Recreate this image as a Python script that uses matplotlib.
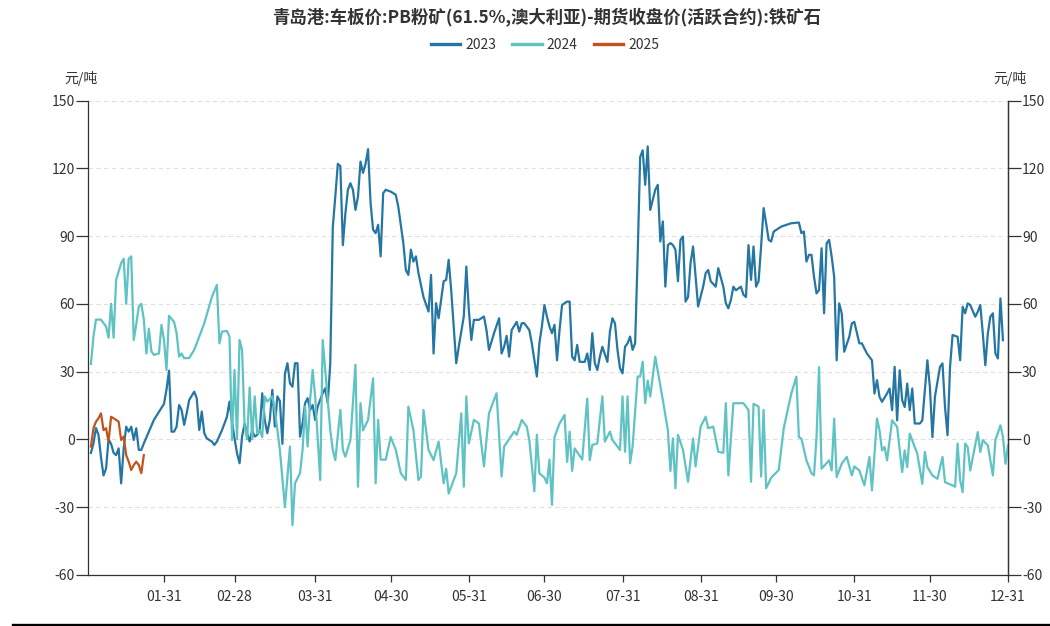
import matplotlib
matplotlib.use("Agg")
import matplotlib.pyplot as plt
from matplotlib.lines import Line2D
import pandas as pd

plt.rcParams['font.family'] = ['Noto Sans CJK SC', 'DejaVu Sans']
plt.rcParams['axes.unicode_minus'] = False

title = "青岛港:车板价:PB粉矿(61.5%,澳大利亚)-期货收盘价(活跃合约):铁矿石"
unit = "元/吨"
series_names = ["2023", "2024", "2025"]
colors = ["#2576a2", "#5fc2c3", "#c2531d"]

tick_dates = ["01-31", "02-28", "03-31", "04-30", "05-31", "06-30",
              "07-31", "08-31", "09-30", "10-31", "11-30", "12-31"]
y_ticks = [-60, -30, 0, 30, 60, 90, 120, 150]

# day of year (leap-year calendar, 01-01 = 1)
doy_2023 = [2, 3, 4, 5, 6, 7, 8, 9, 10, 11, 12, 13, 14, 15, 16, 17, 18, 19, 20, 21, 22, 23, 27,
            31, 32, 33, 34, 35, 36, 37, 38, 39, 40, 41, 43, 44, 45, 46, 47, 48, 50, 51, 52, 54,
            56, 57, 58, 59, 60, 61, 62, 63, 64, 65, 66, 67, 68, 69, 70, 71, 72, 73, 74, 75, 76,
            77, 78, 79, 80, 81, 82, 83, 84, 85, 86, 87, 88, 89, 90, 91, 92, 94, 95, 96, 97, 98,
            99, 100, 101, 102, 103, 104, 105, 106, 107, 108, 109, 110, 111, 112, 113, 114, 115,
            116, 117, 118, 119, 121, 123, 124, 126, 127, 128, 129, 130, 131, 132, 134, 136, 137,
            138, 139, 140, 141, 142, 143, 144, 145, 147, 148, 150, 151, 152, 153, 154, 156, 158,
            159, 160, 162, 164, 165, 166, 167, 168, 169, 171, 172, 173, 174, 176, 177, 178, 179,
            180, 181, 182, 183, 184, 185, 186, 187, 188, 189, 191, 192, 193, 194, 195, 196, 198,
            199, 200, 201, 202, 203, 204, 205, 207, 208, 209, 210, 211, 212, 213, 214, 215, 216,
            217, 218, 219, 220, 221, 222, 223, 224, 225, 226, 227, 228, 229, 230, 231, 232, 233,
            234, 235, 236, 237, 238, 239, 240, 241, 242, 243, 245, 246, 247, 248, 250, 251, 253,
            254, 255, 256, 257, 258, 260, 261, 262, 263, 264, 265, 266, 267, 268, 269, 270, 271,
            272, 273, 276, 280, 283, 284, 285, 286, 287, 288, 289, 290, 291, 292, 293, 294, 295,
            296, 297, 298, 299, 300, 301, 303, 304, 305, 307, 308, 310, 312, 313, 314, 315, 316,
            318, 319, 320, 321, 322, 323, 324, 325, 326, 327, 328, 329, 331, 332, 334, 335, 336,
            337, 339, 340, 341, 342, 343, 344, 346, 347, 348, 349, 350, 351, 353, 354, 355, 356,
            357, 358, 359, 360, 361, 362, 363, 364]
val_2023 = [-6, -2, 5, 2, -8, -16, -13, 0, -2, -6, -7, -4, -19.5, -4, 5.6, 3.4, 5.6, -0.3, 4.9,
            -4.7, -4.7, -1.8, 8.6, 15.7, 22, 30.4, 3.4, 3.4, 5.6, 15.2, 13, 6.4, 11.5, 17.4, 21.1,
            18.2, 4.1, 12.3, 2.7, 0.4, -1, -2.5, -1, 4, 10, 16.7, 7.8, 0.4, -6.2, -10.6, 1.2, 7,
            2.7, -1, 4, 1.2, 2, 4, 20.4, 8.6, 2.7, 8.6, 21.9, 5.6, 19, 17, -2, 29, 33.7, 24.8,
            23.3, 33.7, 33.7, 1.2, 7, 16, 18.2, 13, 15.2, 8.6, 14.5, 20.4, 22.6, 16, 33.7, 94,
            107.5, 122, 121, 86, 100, 110.5, 113.4, 110.5, 101.6, 107.5, 123, 118, 122, 128.5,
            104.6, 92.8, 91.3, 95, 81, 109, 110.5, 109.7, 108.3, 103, 86.9, 75, 72.8, 84, 78.7,
            81, 73.6, 63, 56.6, 72.8, 38, 60.3, 53.6, 61.7, 70, 70.6, 79.5, 66, 33.7, 41, 54.4,
            76.5, 57.3, 44, 52.9, 52.9, 54.4, 48.4, 39.6, 47, 53.6, 38, 41, 45.8, 36.6, 48.4, 52,
            47.7, 51.4, 51.4, 48.4, 42.5, 35, 27.8, 42.5, 50, 59.5, 54.4, 50, 47, 50.7, 35, 48.4,
            59.5, 61, 61, 36.6, 35, 41.8, 34.3, 34.3, 38, 30.7, 47, 33.7, 30.7, 36.6, 41, 34.3,
            47.7, 53.6, 51.4, 39.6, 31.5, 29.2, 41, 42.5, 45.5, 39.6, 42.5, 81, 125, 128, 112.7,
            129.7, 101.6, 106, 110.5, 112.7, 87.6, 96.5, 67.6, 86, 86.9, 86, 84, 70, 88.3, 89.8,
            61, 63, 78, 85.4, 72, 58.8, 67.6, 73.6, 75, 70, 67.6, 75.8, 67.6, 60.3, 58, 61.7,
            67.6, 66, 67.6, 64, 63, 86, 70.6, 85.4, 67.6, 70, 85.4, 102.4, 95.7, 88.3, 87.6, 92,
            94.2, 95.7, 96, 91.3, 92, 78.7, 81.7, 81.7, 72, 64.6, 66.1, 84.6, 55.8, 86.8, 88.3,
            81, 72, 35, 60.2, 55.8, 38.8, 45.4, 51.3, 52, 42.5, 42.5, 38, 35, 20.3, 26.2, 18.8,
            16.6, 20.3, 22.5, 12.9, 32.1, 8.4, 30.6, 17.3, 14.3, 24.7, 12.9, 22.5, 7, 7, 8.4, 35,
            23.2, 1, 18.8, 32.1, 33.6, 14.3, 1.8, 32.1, 46.2, 45.4, 35, 58.7, 55.8, 60.2, 59.5,
            54.3, 56.5, 59.5, 46.9, 32.8, 46.9, 54.3, 55.8, 38, 35.8, 62.4, 43.9]

doy_2024 = [2, 3, 4, 6, 8, 9, 10, 11, 12, 14, 15, 16, 17, 18, 19, 20, 21, 22, 23, 24, 25, 26, 27,
            29, 30, 31, 32, 33, 35, 36, 37, 38, 39, 41, 43, 47, 50, 52, 53, 54, 56, 57, 58, 59,
            60, 61, 62, 63, 64, 65, 66, 67, 68, 69, 70, 71, 72, 74, 75, 77, 79, 80, 81, 82, 83,
            85, 86, 87, 88, 89, 90, 91, 93, 94, 95, 97, 98, 99, 101, 102, 103, 105, 107, 108, 109,
            110, 112, 114, 115, 116, 117, 119, 121, 123, 125, 127, 128, 130, 132, 133, 134, 136,
            138, 140, 142, 143, 144, 147, 149, 150, 151, 152, 154, 156, 158, 160, 163, 165, 166,
            170, 171, 173, 175, 176, 178, 179, 180, 182, 183, 184, 185, 186, 188, 190, 191, 192,
            193, 194, 197, 199, 200, 201, 203, 205, 206, 208, 209, 212, 213, 214, 215, 216, 217,
            219, 220, 221, 222, 223, 224, 226, 229, 231, 232, 233, 234, 235, 237, 239, 241, 242,
            244, 246, 247, 249, 251, 253, 254, 255, 257, 261, 263, 264, 265, 267, 268, 269, 270,
            272, 275, 277, 280, 282, 283, 284, 286, 288, 289, 290, 291, 292, 295, 296, 297, 298,
            300, 302, 304, 305, 307, 309, 311, 312, 314, 315, 316, 317, 318, 320, 322, 324, 325,
            326, 327, 329, 330, 332, 333, 334, 336, 338, 340, 341, 344, 345, 346, 347, 348, 349,
            350, 351, 354, 355, 356, 358, 360, 361, 363, 364, 365, 366]
val_2024 = [33.4, 45.5, 53, 53, 50, 45, 60, 45, 70.6, 78, 80, 60, 80, 81, 44, 51, 58.8, 60, 53,
            38, 49, 39, 37.4, 38, 50.7, 44, 30.7, 54.7, 52, 47, 36.6, 38, 35.9, 36, 39.6, 51.4,
            63, 68.4, 42.5, 47.7, 48, 45.5, -0.3, 30.7, 0, 44, 39.6, 5.6, 0, 23, 0, 19, 2.6, 4,
            1, 19, 16.7, 19, 13, -4.7, -30, -16.5, -3.2, -38, -19.5, -15, -4.7, 14.5, -3.2,
            17.4, 30.7, 19, -18, 44, 30.7, 4.1, -4.7, -9.2, 13, -4.7, -7.7, -0.3, 33, -21, 16,
            4, 8.6, 27, -19.5, 8.6, -9, -9, 1, -4.7, -15, -18, 14.5, 4, -18, -16.5, 13, -4.7,
            -9.2, -1, -19.5, -13, -24, -15, 11.5, -21, 19, -1.8, 8.6, 7, -12, 11.5, 20.4, -16.5,
            -3.2, 3.4, 2, 8.6, 5.6, -0.3, -23, 2, -15, -17, -19.5, -9, -29, 1, 7, 10.8, -10,
            3.4, -14, -4, -9, 18, -9.2, -2.5, -1.8, 19, -1, 3.4, -0.3, -4.7, 19, -5.5, 19,
            -10.6, -3.2, 27.8, 27.8, 34.4, 16, 26, 19, 36.6, 17.4, 4, -14, 0.4, -21.7, 2, -4.7,
            -18.8, 0.4, -12, 5.6, 10, 4.9, 5.6, -5.5, -6, 16, -16, 16, 16, 13, -18.8, 15.7,
            14.5, -16.5, 13, -21.7, -17, -13.6, 5, 20.3, 27.7, 1, 0.3, -9.3, -15, -16, 1, 32,
            -13, -9.3, -13.8, 9.2, -16.7, -10.8, -7.8, -16, -12, -13.8, -20.4, -7.8, -22.6, 9.2,
            4, -4.9, -3.4, -9.3, 8.4, 5.5, -14.5, -4.9, -12.3, 2.5, -3.4, -6.4, -19.7, -5.6,
            -12.3, -16, -17.5, -7.8, -19, -20.4, -21, -1.9, -18, -23.4, -1.9, -3.4, -13.8, 3.2,
            -5.6, -0.4, -2.7, -16, -0.4, 6.2, 1, -10.8, -2.7]

doy_2025 = [2, 3, 4, 5, 6, 7, 8, 9, 10, 11, 12, 13, 14, 15, 16, 17, 18, 19, 20, 21, 22, 23]
val_2025 = [-3.2, 4.9, 7.8, 9.3, 11.5, 4.1, 4.9, -1, 10, 9.3, 8.6, 7.8, -0.3, 1.2, -7, -9.9,
            -13.6, -11.4, -9.9, -11.4, -15, -7]

series_x = [doy_2023, doy_2024, doy_2025]
series_y = [val_2023, val_2024, val_2025]

fig = plt.figure(figsize=(10.5, 6.26), dpi=100)
L, R, B, T = 88.4 / 1050, 1008 / 1050, 1 - 574.8 / 626, 1 - 100.6 / 626
ax = fig.add_axes([L, B, R - L, T - B])

for xs, ys, c, name in zip(series_x, series_y, colors, series_names):
    ax.plot(xs, ys, color=c, lw=1.6, label=name, solid_joinstyle='round', zorder=3)

tick_pos = [pd.Timestamp("2024-" + d).dayofyear for d in tick_dates]
ax.set_xlim(1, 366)
ax.set_ylim(y_ticks[0], y_ticks[-1])
ax.set_xticks(tick_pos)
ax.set_xticklabels(tick_dates)
ax.set_yticks(y_ticks)
ax.yaxis.grid(True, linestyle=(0, (4, 3)), color='#e0e0e0', lw=0.8, zorder=0)
ax.set_axisbelow(True)

axcol = '#333333'
for s in ['left', 'bottom', 'right']:
    ax.spines[s].set_color(axcol)
    ax.spines[s].set_linewidth(0.9)
ax.spines['top'].set_visible(False)
ax.tick_params(axis='x', length=5, width=0.9, color=axcol, pad=6, labelsize=10, labelcolor=axcol)
ax.tick_params(axis='y', length=9, width=0.9, color=axcol, pad=1, labelsize=10, labelcolor=axcol)

ax2 = ax.twinx()
ax2.set_ylim(y_ticks[0], y_ticks[-1])
ax2.set_yticks(y_ticks)
for s in ['left', 'bottom', 'right', 'top']:
    ax2.spines[s].set_visible(False)
ax2.spines['right'].set_visible(True)
ax2.spines['right'].set_color(axcol)
ax2.spines['right'].set_linewidth(0.9)
ax2.tick_params(axis='y', length=9, width=0.9, color=axcol, pad=1, labelsize=10, labelcolor=axcol)

fig.text(81 / 1050, 1 - 78 / 626, unit, ha='center', va='center', fontsize=10, color=axcol)
fig.text(1010 / 1050, 1 - 78 / 626, unit, ha='center', va='center', fontsize=10, color=axcol)

fig.text(547 / 1050, 1 - 18 / 626, title, ha='center', va='center', fontsize=12.5,
         fontweight='bold', color=axcol)

handles = [Line2D([], [], color=c, lw=2.4) for c in colors]
fig.legend(handles, series_names, loc='center', bbox_to_anchor=(545 / 1050, 1 - 45 / 626),
           ncol=3, frameon=False, handlelength=2.1, handletextpad=0.35, columnspacing=1.2,
           fontsize=10, labelcolor=axcol)

fig.add_artist(Line2D([13 / 1050, 1.0], [1 - 624.5 / 626] * 2, color='black', lw=2.4,
                      transform=fig.transFigure))

fig.savefig("out.png", dpi=100)
